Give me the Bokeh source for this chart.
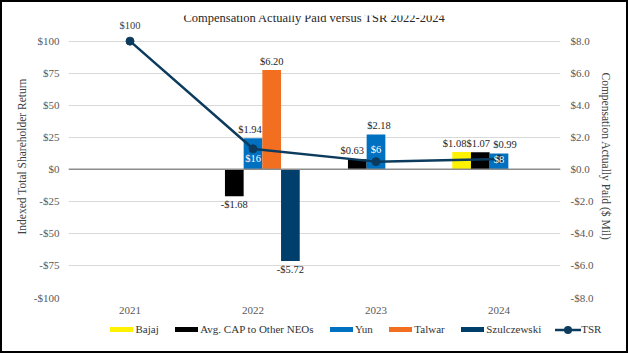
import math
from bokeh.plotting import figure
from bokeh.layouts import column
from bokeh.models import (FactorRange, Range1d, LinearAxis, FixedTicker, CustomJSTickFormatter,
                          ColumnDataSource, Span, Label, Div)
from bokeh.transform import dodge
from bokeh.core.properties import value
from bokeh.embed import file_html
from bokeh.resources import INLINE

# ---------------- data ----------------
years = ["2021", "2022", "2023", "2024"]
tsr = [100, 16, 6, 8]                      # indexed TSR ($)
bajaj = [None, None, None, 1.08]           # CAP, $ Mil
avg_cap = [None, -1.68, 0.63, 1.07]
yun = [None, 1.94, 2.18, 0.99]
talwar = [None, 6.20, None, None]
szulczewski = [None, -5.72, None, None]

series_names = ["Bajaj", "Avg. CAP to Other NEOs", "Yun", "Talwar", "Szulczewski"]
series_values = [bajaj, avg_cap, yun, talwar, szulczewski]

left_ticks = [-100, -75, -50, -25, 0, 25, 50, 75, 100]
right_ticks = [-8, -6, -4, -2, 0, 2, 4, 6, 8]

title_text = "Compensation Actually Paid versus TSR 2022-2024"
left_title = "Indexed Total Shareholder Return"
right_title = "Compensation Actually Paid ($ Mil)"

# ---------------- styles ----------------
series_colors = ["#FFF200", "#000000", "#0070C0", "#F26F21", "#003E6B"]
# horizontal nudges (px) of the bar value labels, as placed in the original
label_nudge = [
    [0, 0, 0, -7],
    [0, 0, -5, -2],
    [0, -3, 3, 6],
    [0, 0, 0, 0],
    [0, 0, 0, 0],
]
tsr_color = "#0C3B5E"
FONT = "Liberation Serif"
tick_color = "#595959"
text_color = "#262626"
bar_w = 0.152
y_top = 120
ratio = left_ticks[-1] / right_ticks[-1]   # $100 <-> $8.0
W, H_MAIN, H_LEG = 624, 318, 31

p = figure(x_range=FactorRange(factors=years, range_padding=0),
           y_range=Range1d(left_ticks[0], y_top),
           width=W, height=H_MAIN, output_backend="svg", toolbar_location=None,
           min_border_left=66, min_border_right=66, min_border_top=13, min_border_bottom=23,
           title=None)
p.extra_y_ranges = {"cap": Range1d(right_ticks[0], y_top / ratio)}
p.outline_line_color = None
p.background_fill_color = "white"
p.border_fill_color = "white"

# grid
p.xgrid.visible = False
p.ygrid.ticker = FixedTicker(ticks=left_ticks)
p.ygrid.grid_line_color = "#D9D9D9"
p.ygrid.grid_line_width = 1

# left axis
ya = p.yaxis[0]
ya.ticker = FixedTicker(ticks=left_ticks)
ya.formatter = CustomJSTickFormatter(code="return (tick < 0 ? '-$' : '$') + Math.abs(tick);")
ya.axis_line_color = None
ya.major_tick_line_color = None
ya.minor_tick_line_color = None
ya.major_tick_out = 0
ya.major_tick_in = 0
ya.major_label_standoff = 9
ya.major_label_text_font = FONT
ya.major_label_text_font_size = "11px"
ya.major_label_text_color = tick_color
ya.axis_label = left_title
ya.axis_label_standoff = 3
ya.axis_label_text_font = FONT
ya.axis_label_text_font_size = "11.5px"
ya.axis_label_text_font_style = "normal"
ya.axis_label_text_color = "#404040"

# right axis
ra = LinearAxis(y_range_name="cap", ticker=FixedTicker(ticks=right_ticks),
                formatter=CustomJSTickFormatter(code="return (tick < 0 ? '-$' : '$') + Math.abs(tick).toFixed(1);"))
ra.axis_line_color = None
ra.major_tick_line_color = None
ra.minor_tick_line_color = None
ra.major_tick_out = 0
ra.major_tick_in = 0
ra.major_label_standoff = 10
ra.major_label_text_font = FONT
ra.major_label_text_font_size = "11px"
ra.major_label_text_color = tick_color
ra.axis_label = right_title
ra.axis_label_standoff = 4
ra.axis_label_text_font = FONT
ra.axis_label_text_font_size = "11.5px"
ra.axis_label_text_font_style = "normal"
ra.axis_label_text_color = "#404040"
p.add_layout(ra, "right")

# bottom axis
xa = p.xaxis[0]
xa.axis_line_color = None
xa.major_tick_line_color = None
xa.major_tick_out = 0
xa.major_tick_in = 0
xa.major_label_standoff = 9
xa.major_label_text_font = FONT
xa.major_label_text_font_size = "11px"
xa.major_label_text_color = tick_color

# bars + labels
n = len(series_names)
for i, (name, vals, col) in enumerate(zip(series_names, series_values, series_colors)):
    idx = [k for k, v in enumerate(vals) if v is not None]
    src = ColumnDataSource(dict(
        year=[years[k] for k in idx],
        val=[vals[k] for k in idx],
        label=[("-$" if vals[k] < 0 else "$") + f"{abs(vals[k]):.2f}" for k in idx],
        base=["top" if vals[k] < 0 else "bottom" for k in idx],
        off=[3 if vals[k] < 0 else -3 for k in idx],
        dx=[label_nudge[i][k] for k in idx],
    ))
    off = (i - (n - 1) / 2) * bar_w
    p.vbar(x=dodge("year", off, range=p.x_range), top="val", bottom=0, width=bar_w,
           y_range_name="cap", fill_color=col, line_color=None, source=src)
    p.text(x=dodge("year", off, range=p.x_range), y="val", text="label", y_range_name="cap",
           text_baseline="base", y_offset="off", x_offset="dx", text_align="center",
           text_font=value(FONT), text_font_size="10.5px", text_color=text_color, source=src)

# zero line
p.add_layout(Span(location=0, dimension="width", line_color="#8C8C8C", line_width=1.5))

# TSR line
tsrc = ColumnDataSource(dict(
    year=years, tsr=tsr,
    label=[f"${v}" for v in tsr],
    base=["bottom", "middle", "middle", "middle"],
    off=[-10, 10, -12, 0],
    tc=["#404040", "white", "white", "white"],
))
p.line(x="year", y="tsr", line_color=tsr_color, line_width=2.5, source=tsrc)
p.scatter(x="year", y="tsr", size=8, fill_color=tsr_color, line_color=tsr_color, source=tsrc)
p.text(x="year", y="tsr", text="label", text_baseline="base", y_offset="off", text_align="center",
       text_font=value(FONT), text_font_size="10.5px", text_color="tc", source=tsrc)

# chart title
p.add_layout(Label(x=2.0, y=118, text=title_text, text_align="center", text_baseline="middle",
                   text_font=FONT, text_font_size="12.5px", text_color=text_color))

# ---------------- legend strip (HTML) ----------------
parts = []
for j, (name, col) in enumerate(zip(series_names, series_colors)):
    ml = 0 if j == 0 else 16
    parts.append(
        f'<span style="display:inline-block;width:23px;height:5px;background:{col};'
        f'margin-left:{ml}px;margin-right:2.5px;"></span><span>{name}</span>')
parts.append(
    f'<svg width="26" height="10" style="margin-left:14px;display:inline-block;">'
    f'<line x1="0" y1="5" x2="26" y2="5" stroke="{tsr_color}" stroke-width="2.5"/>'
    f'<circle cx="13" cy="5" r="4" fill="{tsr_color}"/></svg><span>TSR</span>')
html = ('<div style="display:flex;align-items:center;height:18px;padding-left:108px;'
        'font-family:&quot;Liberation Serif&quot;,&quot;Times New Roman&quot;,serif;'
        'font-size:11px;font-weight:normal;color:#333333;white-space:nowrap;">'
        + "".join(parts) + "</div>")
leg = Div(text=html, width=W, height=H_LEG, margin=0)

layout = column(p, leg, width=628, height=353, spacing=0,
                styles={"border": "2px solid #000000", "background-color": "white"})

open("out.html", "w").write(file_html(layout, INLINE))
